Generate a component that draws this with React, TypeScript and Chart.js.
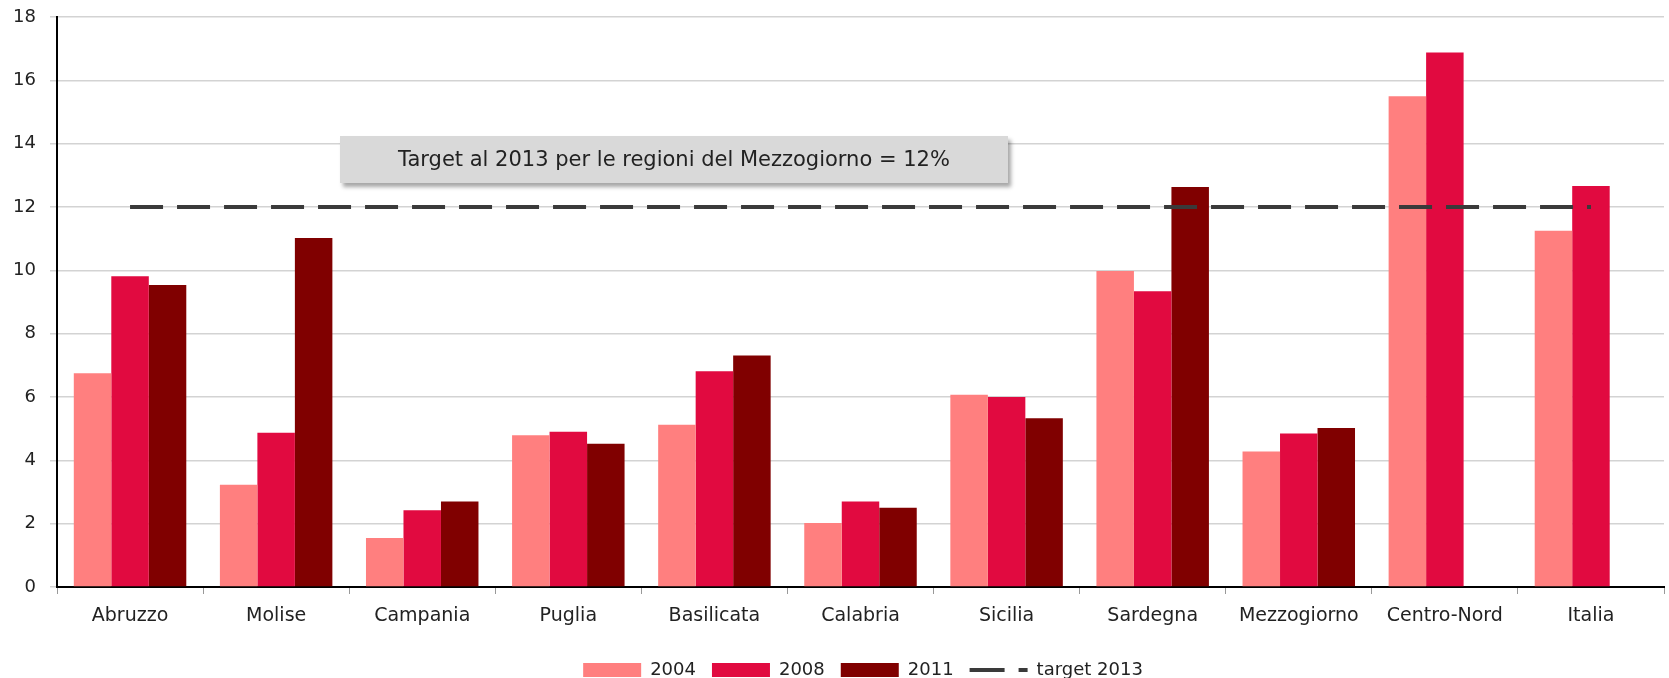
import React, { useEffect, useRef } from 'react';
import { Chart, registerables } from 'chart.js';

Chart.register(...registerables);

const categories = ['Abruzzo', 'Molise', 'Campania', 'Puglia', 'Basilicata', 'Calabria', 'Sicilia', 'Sardegna', 'Mezzogiorno', 'Centro-Nord', 'Italia'];
const values2004 = [6.75, 3.23, 1.55, 4.79, 5.12, 2.02, 6.07, 9.98, 4.28, 15.5, 11.25];
const values2008 = [9.81, 4.87, 2.42, 4.9, 6.81, 2.7, 6.0, 9.34, 4.85, 16.88, 12.66];
const values2011 = [9.54, 11.02, 2.7, 4.52, 7.31, 2.5, 5.33, 12.63, 5.02, null, null];
const target2013 = [12, 12, 12, 12, 12, 12, 12, 12, 12, 12, 12];
const seriesLabels = ['2004', '2008', '2011', 'target 2013'];
const seriesColors = ['#FF7F7F', '#E10A40', '#800000', '#3a3a3a'];
const annotationText = 'Target al 2013 per le regioni del Mezzogiorno = 12%';

const FONT = '"DejaVu Sans", sans-serif';

export default function App() {
  const ref = useRef<HTMLCanvasElement>(null);

  useEffect(() => {
    document.body.style.margin = '0';
    Chart.defaults.font.family = FONT;

    const legendShift = {
      id: 'legendShift',
      afterLayout(chart: any) {
        const lg = chart.legend;
        if (!lg) return;
        const dx = 31, dy = 11;
        lg.left += dx; lg.right += dx;
        lg.top += dy; lg.bottom += dy;
      },
    };

    const annotationPlugin = {
      id: 'annotBox',
      afterDatasetsDraw(chart: any) {
        const c = chart.ctx;
        const left = 340, right = 1008, top = 136, bottom = 183;
        c.save();
        c.shadowColor = 'rgba(0,0,0,0.35)';
        c.shadowOffsetX = 3;
        c.shadowOffsetY = 4;
        c.shadowBlur = 4;
        c.fillStyle = '#d9d9d9';
        c.fillRect(left, top, right - left, bottom - top);
        c.restore();
        c.save();
        c.fillStyle = '#222';
        c.font = `21px ${FONT}`;
        c.textAlign = 'center';
        c.textBaseline = 'middle';
        c.fillText(annotationText, (left + right) / 2, (top + bottom) / 2 + 1);
        c.restore();
      },
    };

    const chart = new Chart(ref.current!, {
      type: 'bar',
      data: {
        labels: categories,
        datasets: [
          { type: 'bar', label: seriesLabels[0], data: values2004, backgroundColor: seriesColors[0], borderWidth: 0, order: 1 },
          { type: 'bar', label: seriesLabels[1], data: values2008, backgroundColor: seriesColors[1], borderWidth: 0, order: 1 },
          { type: 'bar', label: seriesLabels[2], data: values2011 as any, backgroundColor: seriesColors[2], borderWidth: 0, order: 1 },
          {
            type: 'line', label: seriesLabels[3], data: target2013, borderColor: seriesColors[3], borderWidth: 4,
            borderDash: [33, 14], pointRadius: 0, fill: false, order: 0, tension: 0,
          } as any,
        ],
      },
      options: {
        animation: false,
        responsive: true,
        maintainAspectRatio: false,
        layout: { padding: { top: 17, right: 5, left: 0, bottom: 0 } },
        datasets: { bar: { categoryPercentage: 0.77, barPercentage: 1.0 } },
        plugins: {
          tooltip: { enabled: false },
          legend: {
            position: 'bottom',
            labels: {
              usePointStyle: true,
              pointStyleWidth: 58,
              boxHeight: 14,
              padding: 16,
              color: '#222',
              font: { size: 18, family: FONT },
              generateLabels: () =>
                seriesLabels.map((t, i) => ({
                  text: t,
                  fillStyle: i < 3 ? seriesColors[i] : 'rgba(0,0,0,0)',
                  strokeStyle: seriesColors[i],
                  lineWidth: i < 3 ? 0 : 4,
                  lineDash: i < 3 ? [] : [35, 14],
                  pointStyle: i < 3 ? 'rect' : 'line',
                  datasetIndex: i,
                  hidden: false,
                  fontColor: '#222',
                })) as any,
            },
          },
        },
        scales: {
          x: {
            grid: { drawOnChartArea: false, drawTicks: true, tickLength: 7, color: '#999', lineWidth: 1 },
            border: { color: '#000', width: 2 },
            ticks: { font: { size: 19, family: FONT }, color: '#222', padding: 11 },
            afterFit: (s: any) => { s.height = 47; },
          },
          y: {
            min: 0,
            max: 18,
            ticks: { stepSize: 2, font: { size: 18, family: FONT }, color: '#222', padding: 14 },
            grid: { color: '#d3d3d3', lineWidth: 1.5, tickLength: 7 },
            border: { color: '#000', width: 2 },
            afterFit: (s: any) => { s.width = 57; s.paddingTop = 10; s.paddingBottom = 10; },
          },
        },
      },
      plugins: [legendShift, annotationPlugin],
    });

    return () => chart.destroy();
  }, []);

  return (
    <div style={{ width: 1669, height: 678, position: 'relative' }}>
      <canvas ref={ref} />
    </div>
  );
}
